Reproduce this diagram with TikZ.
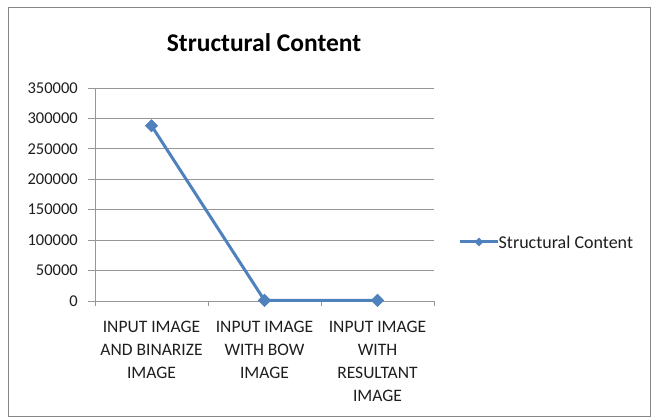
\documentclass[tikz,border=0pt]{standalone}
\usepackage{fontspec}
\setmainfont{Carlito}
\usepackage{xcolor}
\usepackage{tikz}
\usetikzlibrary{shapes.geometric,positioning}
\definecolor{azul}{RGB}{79,129,189}
\definecolor{grisrejilla}{RGB}{150,150,150}
\definecolor{grisborde}{RGB}{134,134,134}
\definecolor{texto}{RGB}{30,30,30}

\begin{document}
\begin{tikzpicture}[x=1pt,y=-1pt,
marco/.style={draw=grisborde,line width=1pt},
rejilla/.style={draw=grisrejilla,line width=0.9pt},
valor/.style={anchor=east,inner sep=0pt,text=texto,font=\fontsize{16.5}{18}\selectfont},
categoria/.style={anchor=north,align=center,inner sep=0pt,text=texto,font=\fontsize{17.5}{23}\selectfont},
punto/.style={diamond,fill=azul,minimum size=13pt,inner sep=0pt},
serie/.style={draw=azul,line width=3pt,line join=round}
]
\useasboundingbox (0,0) rectangle (655,419);
\draw[marco] (8.5,7.5) rectangle (650.5,416.5);

\node[font=\bfseries\fontsize{25.5}{30}\selectfont] (titulo) at (264,43) {Structural Content};

% rejilla y valores del eje
\draw[rejilla] (88,88) -- (434,88);
\draw[rejilla] (88,118.4) -- (434,118.4);
\draw[rejilla] (88,148.9) -- (434,148.9);
\draw[rejilla] (88,179.3) -- (434,179.3);
\draw[rejilla] (88,209.7) -- (434,209.7);
\draw[rejilla] (88,240.1) -- (434,240.1);
\draw[rejilla] (88,270.6) -- (434,270.6);
\draw[rejilla] (88,301) -- (434,301);
\draw[rejilla] (95,88) -- (95,306);
\draw[rejilla] (208,301) -- (208,306);
\draw[rejilla] (321,301) -- (321,306);
\draw[rejilla] (434,301) -- (434,306);

\node[valor] (v350) at (78,88) {350000};
\node[valor] (v300) at (78,118.4) {300000};
\node[valor] (v250) at (78,148.9) {250000};
\node[valor] (v200) at (78,179.3) {200000};
\node[valor] (v150) at (78,209.7) {150000};
\node[valor] (v100) at (78,240.1) {100000};
\node[valor] (v50) at (78,270.6) {50000};
\node[valor] (v0) at (78,301) {0};

\node[categoria] (cat1) at (151.5,321) {INPUT IMAGE\\AND BINARIZE\\IMAGE};
\node[categoria] (cat2) at (264.5,321) {INPUT IMAGE\\WITH BOW\\IMAGE};
\node[categoria] (cat3) at (377.5,321) {INPUT IMAGE\\WITH\\RESULTANT\\IMAGE};

% serie de datos
\node[punto] (p1) at (151.5,125.7) {};
\node[punto] (p2) at (264.5,300.4) {};
\node[punto] (p3) at (377.5,300.4) {};
\draw[serie] (p1.center) -- (p2.center) -- (p3.center);
\node[punto] at (p1) {};
\node[punto] at (p2) {};
\node[punto] at (p3) {};

% leyenda
\coordinate (leyini) at (460,242);
\coordinate (leyfin) at (498,242);
\draw[serie] (leyini) -- (leyfin);
\node[punto,minimum size=9pt] (leymarca) at (479,242) {};
\node[anchor=west,inner sep=0pt,text=texto,font=\fontsize{18}{20}\selectfont] (leytexto) at (498.5,242) {Structural Content};
\end{tikzpicture}
\end{document}
